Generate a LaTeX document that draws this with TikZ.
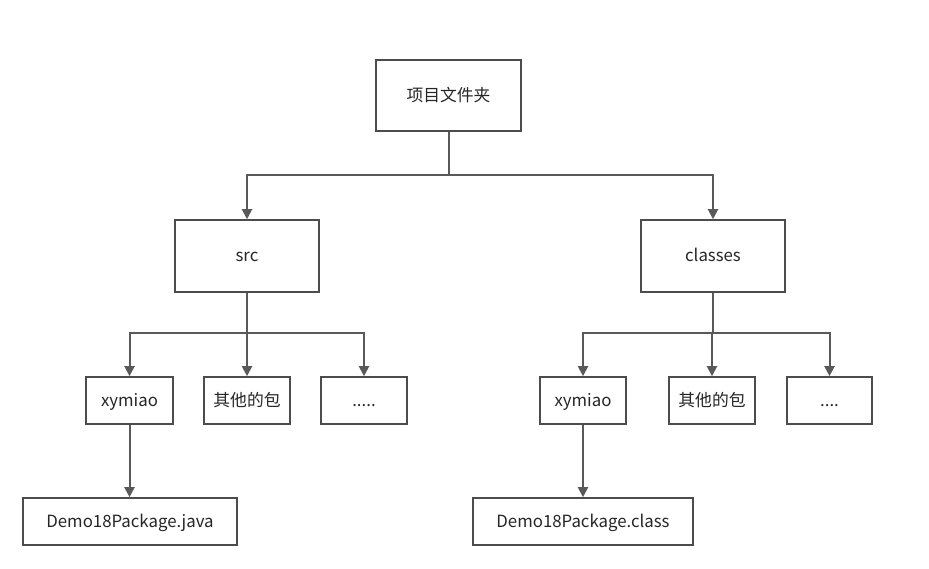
\documentclass[tikz,border=0pt]{standalone}
\usepackage{fontspec}
\setmainfont{Noto Sans CJK SC}
\usetikzlibrary{arrows.meta}
\begin{document}
\begin{tikzpicture}[x=1pt,y=-1pt,
  box/.style={draw=black!70,line width=1.6pt,fill=white,inner sep=0pt,text height=14pt,text depth=2.5pt,font=\fontsize{16.8}{20}\selectfont,text=black!85},
  conn/.style={draw=black!65,line width=2pt},
  arr/.style={conn,-{Triangle[width=10pt,length=10pt]}}]
\useasboundingbox (0,0) rectangle (929,569);
\node[box,minimum width=145pt,minimum height=71pt] (top) at (448.5,95.5) {项目文件夹};
\node[box,minimum width=144pt,minimum height=72pt] (src) at (247,256) {src};
\node[box,minimum width=144pt,minimum height=72pt] (classes) at (713,256) {classes};
\node[box,minimum width=87pt,minimum height=47pt] (x1) at (129.5,400.5) {xymiao};
\node[box,minimum width=86pt,minimum height=47pt] (o1) at (247,400.5) {其他的包};
\node[box,minimum width=86pt,minimum height=47pt] (d1) at (364,400.5) {.....};
\node[box,minimum width=86pt,minimum height=47pt] (x2) at (583,400.5) {xymiao};
\node[box,minimum width=86pt,minimum height=47pt] (o2) at (712,400.5) {其他的包};
\node[box,minimum width=85pt,minimum height=47pt] (d2) at (829.5,400.5) {....};
\node[box,minimum width=214pt,minimum height=47pt] (j) at (130,521.5) {Demo18Package.java};
\node[box,minimum width=220pt,minimum height=47pt] (c) at (583,521.5) {Demo18Package.class};
\coordinate (j0) at (448.5,175);
\coordinate (j1) at (247,333);
\coordinate (j2) at (713,333);
\draw[conn] (top.south) -- (j0);
\draw[arr] (j0) -| (src.north);
\draw[arr] (j0) -| (classes.north);
\draw[conn] (src.south) -- (j1);
\draw[arr] (j1) -| (x1.north);
\draw[arr] (j1) -- (o1.north);
\draw[arr] (j1) -| (d1.north);
\draw[conn] (classes.south) -- (j2);
\draw[arr] (j2) -| (x2.north);
\draw[arr] (j2) -| (o2.north);
\draw[arr] (j2) -| (d2.north);
\draw[arr] (x1.south) -- (x1.south |- j.north);
\draw[arr] (x2.south) -- (x2.south |- c.north);
\end{tikzpicture}
\end{document}
